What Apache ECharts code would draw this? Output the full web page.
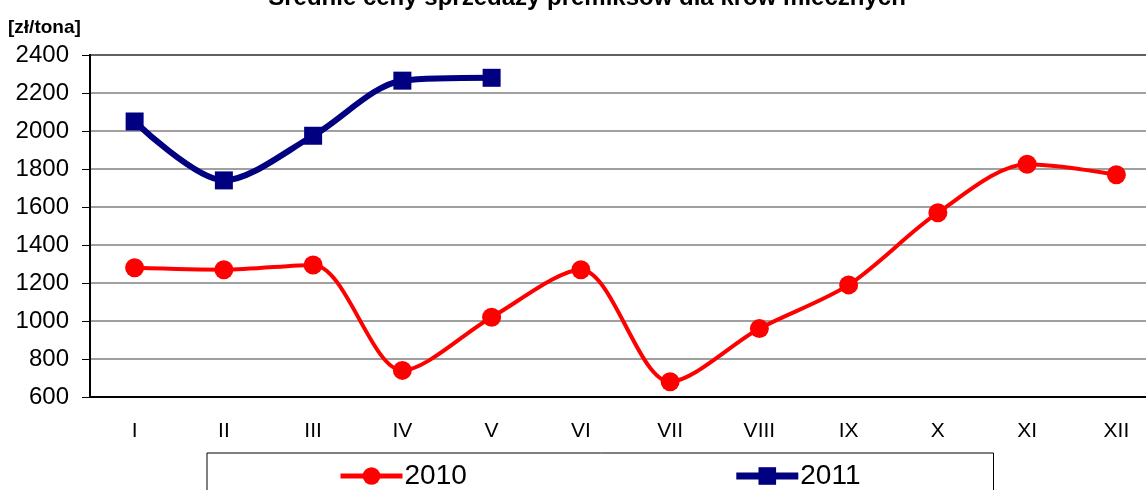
<!DOCTYPE html>
<html>
<head>
<meta charset="utf-8">
<script src="https://cdn.jsdelivr.net/npm/echarts@6/dist/echarts.min.js"></script>
<style>
  html, body { margin: 0; padding: 0; background: #fff; }
  #chart { width: 1146px; height: 490px; }
</style>
</head>
<body>
<div id="chart"></div>
<script>
// miesiące
const months = ['I', 'II', 'III', 'IV', 'V', 'VI', 'VII', 'VIII', 'IX', 'X', 'XI', 'XII'];
// ceny [zł/tona]
const prices2010 = [1280, 1270, 1295, 740, 1020, 1270, 680, 960, 1190, 1570, 1825, 1770];
const prices2011 = [2050, 1740, 1975, 2265, 2280];

const font = 'Arial, "Liberation Sans", sans-serif';

const chart = echarts.init(document.getElementById('chart'));
chart.setOption({
    animation: false,
    title: {
        text: 'Średnie ceny sprzedaży premiksów dla krów mlecznych',
        left: 582,
        textAlign: 'center',
        top: -19,
        textStyle: { fontFamily: font, fontSize: 24, fontWeight: 'bold', color: '#000' }
    },
    legend: {
        left: 207,
        top: 453,
        padding: [9, 133, 20, 131],
        itemGap: 266,
        itemWidth: 62,
        itemHeight: 22,
        borderColor: '#000',
        borderWidth: 1,
        textStyle: { fontFamily: font, fontSize: 28, color: '#000', padding: [0, 0, 0, -3] },
        data: [
            { name: '2010', lineStyle: { width: 5 } },
            { name: '2011', lineStyle: { width: 7 } }
        ]
    },
    grid: {
        left: 90, right: -15, top: 55, bottom: 93,
        outerBoundsMode: 'none',
        containLabel: false,
        show: true,
        borderColor: '#000',
        borderWidth: 2
    },
    xAxis: {
        type: 'category',
        data: months,
        boundaryGap: true,
        axisLine: { lineStyle: { color: '#000', width: 2 } },
        axisTick: { inside: true, length: 6, lineStyle: { color: '#000' } },
        axisLabel: { fontFamily: font, fontSize: 21, color: '#000', margin: 24 }
    },
    yAxis: {
        type: 'value',
        name: '[zł/tona]',
        nameLocation: 'end',
        nameGap: 18,
        nameTextStyle: { fontFamily: font, fontSize: 19, fontWeight: 'bold', color: '#000', align: 'left', padding: [0, 0, 0, -82] },
        min: 600,
        max: 2400,
        interval: 200,
        axisLine: { show: true, lineStyle: { color: '#000', width: 2 } },
        axisTick: { show: true, length: 8, lineStyle: { color: '#000' } },
        axisLabel: { fontFamily: font, fontSize: 24, color: '#000', margin: 21, formatter: v => String(v) },
        splitLine: { lineStyle: { color: '#808080', width: 1.5 } }
    },
    series: [
        {
            name: '2010',
            type: 'line',
            data: prices2010,
            smooth: 0.3,
            symbol: 'circle',
            symbolSize: 19,
            itemStyle: { color: '#ff0000' },
            lineStyle: { color: '#ff0000', width: 4 }
        },
        {
            name: '2011',
            type: 'line',
            data: prices2011,
            smooth: 0.3,
            symbol: 'rect',
            symbolSize: 18,
            itemStyle: { color: '#000080' },
            lineStyle: { color: '#000080', width: 6 }
        }
    ]
});
</script>
</body>
</html>
